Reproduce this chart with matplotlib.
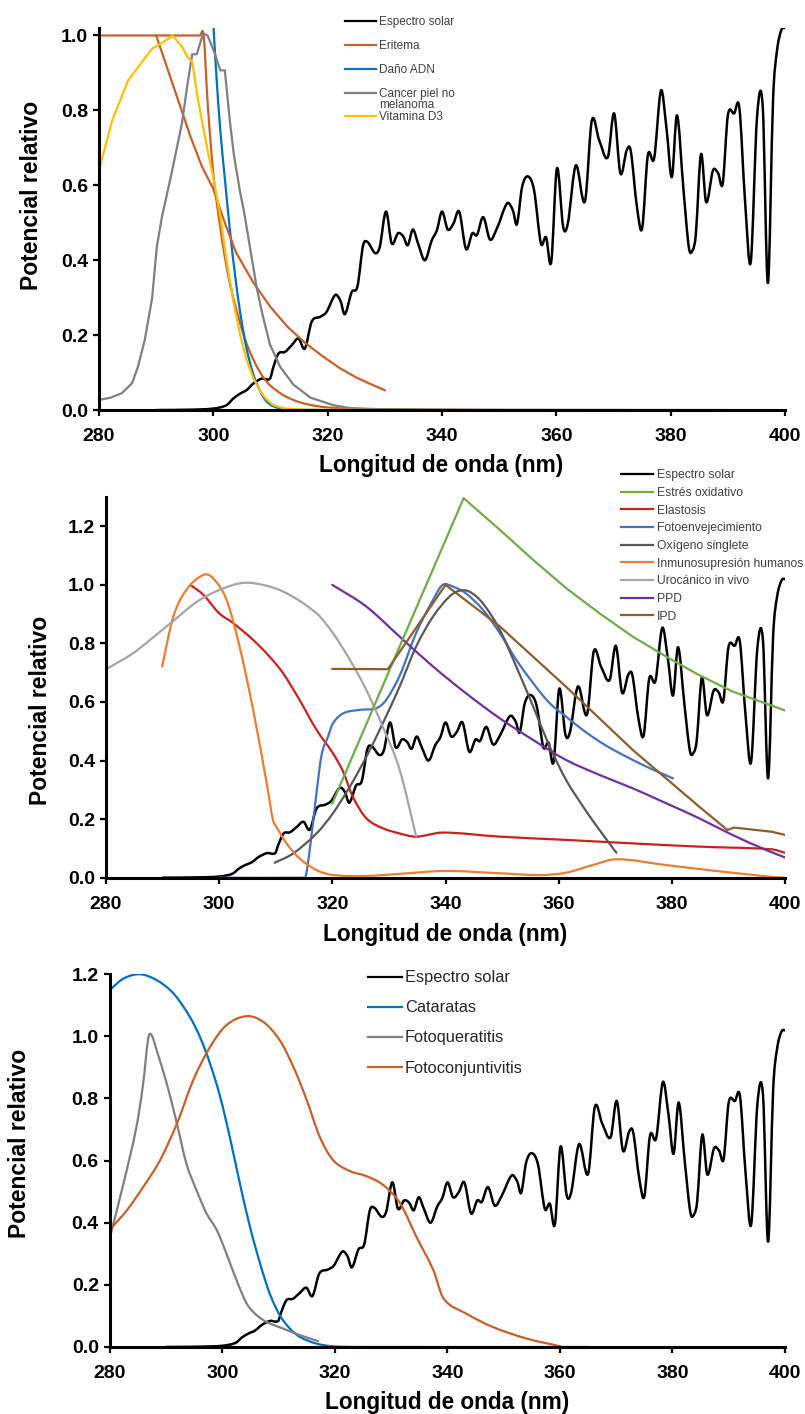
import numpy as np
import matplotlib
matplotlib.use('Agg')
import matplotlib.pyplot as plt
from matplotlib.path import Path
from matplotlib.patches import PathPatch
from matplotlib.lines import Line2D

plt.rcParams['font.family'] = ['Liberation Sans', 'DejaVu Sans']

# ---------------- data ----------------
solar_nm = [290, 296, 300, 302.3, 303.5, 304.7, 305.8, 307, 308.5, 309.9, 310.5, 311.4,
            312.5, 313.7, 314.9, 316, 317.2, 318.7, 319.8, 321.3, 322.2, 323, 324.2, 325.2,
            326.2, 327, 328.3, 329.1, 330.2, 331.2, 332.3, 333.2, 334, 334.9, 335.8, 337,
            338.2, 339.1, 340, 341, 342, 343, 344.2, 345.3, 346.1, 347.2, 348.4, 349.6,
            351.4, 352.4, 353.1, 354, 355, 356.1, 357.3, 358.2, 359.1, 360.1, 361.2, 362,
            363.4, 365, 366.2, 367.5, 369, 370.1, 371.2, 372.3, 373, 374.1, 375, 376,
            377.1, 378.3, 379.3, 380.2, 381.1, 382.2, 383.2, 383.9, 384.4, 385.3, 386.2,
            387.4, 388.3, 389.1, 390, 391.1, 392, 393, 394, 395.1, 396.1, 397, 397.9,
            398.6, 399.4, 400]
solar_val = [0.0, 0.001, 0.004, 0.013, 0.031, 0.044, 0.053, 0.071, 0.084, 0.084, 0.115, 0.151,
             0.155, 0.173, 0.191, 0.164, 0.236, 0.249, 0.262, 0.307, 0.293, 0.256, 0.315, 0.33,
             0.44, 0.448, 0.419, 0.435, 0.53, 0.445, 0.472, 0.464, 0.44, 0.482, 0.445, 0.4,
             0.453, 0.48, 0.53, 0.482, 0.498, 0.53, 0.43, 0.472, 0.467, 0.515, 0.455, 0.485,
             0.552, 0.533, 0.496, 0.595, 0.624, 0.587, 0.445, 0.461, 0.395, 0.645, 0.488, 0.498,
             0.653, 0.557, 0.773, 0.72, 0.675, 0.792, 0.632, 0.693, 0.693, 0.542, 0.485, 0.68,
             0.672, 0.853, 0.747, 0.622, 0.787, 0.595, 0.432, 0.429, 0.47, 0.683, 0.555,
             0.64, 0.632, 0.605, 0.787, 0.792, 0.808, 0.56, 0.395, 0.782, 0.81, 0.339, 0.827,
             0.96, 1.016, 1.02]

# panel 1
eritema_nm = [280, 297.7, 298.3, 299, 300, 301, 302, 303, 304, 305, 306, 307, 308, 309, 310,
              312, 314, 316, 318, 320, 325, 330, 340, 350]
eritema_val = [1.0, 1.0, 1.0, 0.82, 0.63, 0.51, 0.41, 0.33, 0.27, 0.215, 0.17, 0.135, 0.105,
               0.082, 0.065, 0.042, 0.027, 0.017, 0.011, 0.007, 0.003, 0.002, 0.001, 0.0]
eritema2_nm = [290, 292, 294, 296, 298, 300, 302, 304, 307, 310, 313, 316, 319, 322, 325, 328, 330]
eritema2_val = [1.0, 0.91, 0.82, 0.73, 0.65, 0.59, 0.5, 0.42, 0.34, 0.275, 0.222, 0.18, 0.145,
                0.113, 0.087, 0.066, 0.053]
adn_nm = [300, 300.5, 301.2, 302, 302.9, 303.8, 304.7, 305.8, 307, 308.2, 309.2, 310.5, 313, 320, 330]
adn_val = [1.03, 0.9, 0.75, 0.62, 0.48, 0.36, 0.26, 0.165, 0.095, 0.05, 0.025, 0.01, 0.002, 0.0, 0.0]
cancer_nm = [280, 282, 284, 285.8, 286.8, 288, 289.3, 290.1, 291, 292.8, 294.5, 295.4, 296.3,
             297.1, 298.2, 299, 300.3, 301.2, 302, 302.9, 303.6, 304.7, 305.3, 306.4, 307.6,
             308.6, 309.9, 311.7, 314, 317, 321, 324, 330, 340, 397]
cancer_val = [0.027, 0.033, 0.045, 0.072, 0.115, 0.187, 0.3, 0.435, 0.515, 0.64, 0.765, 0.862,
              0.95, 0.95, 1.005, 1.0, 0.95, 0.907, 0.907, 0.77, 0.68, 0.58, 0.535, 0.435, 0.325,
              0.255, 0.175, 0.115, 0.068, 0.033, 0.013, 0.005, 0.002, 0.001, 0.0]
vitd3_nm = [280, 282.3, 285.1, 286.8, 289.3, 291, 292.9, 294.5, 295.6, 296.3, 297.3, 298.9, 300,
            301.2, 302.3, 303.5, 304.7, 305.8, 307, 308.2, 309.2, 310.5, 312.5, 316, 330]
vitd3_val = [0.64, 0.773, 0.88, 0.915, 0.965, 0.98, 1.0, 0.97, 0.94, 0.93, 0.83, 0.7, 0.62,
             0.52, 0.4, 0.29, 0.2, 0.135, 0.085, 0.05, 0.03, 0.013, 0.004, 0.001, 0.0]

# panel 2
estres_nm = [320, 331.9, 343.2, 349.6, 355.5, 361.3, 367.2, 373.1, 379, 384.8, 390.7, 400]
estres_val = [0.254, 0.79, 1.296, 1.188, 1.085, 0.989, 0.903, 0.823, 0.755, 0.692, 0.636, 0.571]
elastosis_nm = [294.9, 297.2, 300, 302.5, 306, 308.9, 311.3, 314.2, 317.2, 320.1, 321.9, 323.6,
                326, 328.9, 331.9, 334.8, 339.5, 349.6, 361.3, 373.1, 384.8, 397.6, 400]
elastosis_val = [1.0, 0.966, 0.903, 0.869, 0.812, 0.755, 0.698, 0.607, 0.505, 0.425, 0.362, 0.277,
                 0.203, 0.169, 0.151, 0.14, 0.154, 0.14, 0.129, 0.117, 0.106, 0.097, 0.085]
fotoenv_nm = [300, 314.8, 315.3, 316.1, 317.2, 318.1, 319.2, 320.1, 321.9, 324.8, 327.8, 329.5,
              331.9, 334.8, 337.8, 339.5, 341.3, 343.6, 346.6, 349.6, 352.5, 355.5, 358.4, 361.3,
              364.3, 367.2, 370.2, 373.1, 376.1, 380.2]
fotoenv_val = [0.0, 0.0, 0.005, 0.11, 0.29, 0.42, 0.48, 0.527, 0.561, 0.573, 0.579, 0.607, 0.69,
               0.835, 0.949, 1.0, 0.994, 0.971, 0.915, 0.835, 0.744, 0.664, 0.596, 0.55, 0.504,
               0.465, 0.431, 0.402, 0.374, 0.339]
oxigeno_nm = [309.8, 313.1, 317.2, 320.1, 323.1, 326, 328.9, 331.9, 334.8, 337.8, 340.7, 342.5,
              344.2, 346.6, 349.6, 352.5, 355.5, 358.4, 361.3, 364.3, 367.2, 370.2]
oxigeno_val = [0.051, 0.083, 0.151, 0.22, 0.311, 0.413, 0.527, 0.653, 0.789, 0.892, 0.96, 0.98,
               0.977, 0.937, 0.846, 0.721, 0.584, 0.448, 0.334, 0.243, 0.163, 0.085]
inmuno_nm = [289.9, 291.9, 294.2, 297.2, 298.9, 301.3, 303.6, 306, 308.4, 309.5, 310.1, 311.9,
             314.2, 317.2, 320.1, 326, 331.9, 340, 349.6, 356.6, 361.3, 366, 370.2, 379, 387.8,
             397.6, 400]
inmuno_val = [0.721, 0.892, 0.983, 1.034, 1.023, 0.949, 0.789, 0.573, 0.322, 0.197, 0.174, 0.117,
              0.066, 0.026, 0.009, 0.006, 0.013, 0.023, 0.015, 0.009, 0.017, 0.043, 0.063, 0.043,
              0.023, 0.003, 0.0]
urocanico_nm = [280, 284.8, 290.7, 296.6, 302.5, 306, 311.3, 317.2, 320.1, 323.1, 326, 328.9,
                331.9, 334.8]
urocanico_val = [0.712, 0.767, 0.858, 0.949, 1.0, 1.006, 0.977, 0.903, 0.835, 0.744, 0.641, 0.516,
                 0.368, 0.142]
ppd_nm = [320, 326, 331.9, 337.8, 343.6, 349.6, 355.5, 361.3, 367.2, 373.1, 379, 384.8, 390.7,
          396.6, 400]
ppd_val = [1.0, 0.926, 0.823, 0.721, 0.63, 0.544, 0.47, 0.402, 0.351, 0.305, 0.254, 0.203, 0.146,
           0.095, 0.069]
ipd_nm = [320, 329.8, 340, 349.6, 361.3, 373.1, 384.8, 389.8, 391, 397.6, 400]
ipd_val = [0.713, 0.712, 1.0, 0.858, 0.652, 0.436, 0.243, 0.163, 0.171, 0.157, 0.146]

# panel 3
cataratas_nm = [280, 282.4, 285.3, 288.3, 291.3, 294.2, 296, 297.8, 299.6, 301.3, 303.1, 304.9,
                306.7, 308.4, 310.2, 312, 313.8, 316.7, 319.7, 325, 365]
cataratas_val = [1.15, 1.186, 1.2, 1.181, 1.138, 1.063, 0.998, 0.912, 0.805, 0.676, 0.526, 0.386,
                 0.268, 0.172, 0.102, 0.059, 0.032, 0.011, 0.002, 0.0, 0.0]
queratitis_nm = [280, 282.4, 284.7, 285.9, 286.8, 287.4, 288.3, 290.1, 291.9, 293.6, 295.4, 297.2,
                 299, 300.7, 302.5, 304.3, 306.1, 307.9, 310.8, 313.8, 317]
queratitis_val = [0.354, 0.526, 0.708, 0.848, 0.993, 1.004, 0.955, 0.848, 0.719, 0.59, 0.504,
                  0.429, 0.376, 0.301, 0.215, 0.14, 0.102, 0.08, 0.059, 0.038, 0.019]
conjunt_nm = [280, 283, 285.9, 288.9, 291.9, 294.8, 297.8, 300.7, 304.3, 307.3, 310.2, 312.6, 315,
              317.3, 319.7, 322.7, 325.6, 328.6, 331.6, 334.5, 337.5, 339.3, 343.4, 348.1, 354.1,
              360.1]
conjunt_val = [0.378, 0.44, 0.515, 0.601, 0.719, 0.859, 0.966, 1.036, 1.065, 1.046, 0.987, 0.902,
               0.794, 0.676, 0.601, 0.566, 0.55, 0.521, 0.462, 0.354, 0.247, 0.156, 0.107, 0.064,
               0.027, 0.002]


def smooth_line(ax, x, y, color, lw=1.5):
    # Excel-like smoothed line: cubic Bezier through the points
    x = np.asarray(x, float)
    y = np.asarray(y, float)
    n = len(x)
    m = np.zeros(n)
    m[0] = (y[1] - y[0]) / (x[1] - x[0])
    m[-1] = (y[-1] - y[-2]) / (x[-1] - x[-2])
    for i in range(1, n - 1):
        m[i] = (y[i + 1] - y[i - 1]) / (x[i + 1] - x[i - 1])
    verts = [(x[0], y[0])]
    codes = [Path.MOVETO]
    for i in range(n - 1):
        dx = (x[i + 1] - x[i]) / 3
        verts += [(x[i] + dx, y[i] + m[i] * dx), (x[i + 1] - dx, y[i + 1] - m[i + 1] * dx),
                  (x[i + 1], y[i + 1])]
        codes += [Path.CURVE4] * 3
    ax.add_patch(PathPatch(Path(verts, codes), fill=False, edgecolor=color, lw=lw,
                           capstyle='round', joinstyle='round'))


def style_axes(ax, ymax, yticks, ylab_xy, xlab_xy):
    ax.set_xlim(280, 400)
    ax.set_ylim(0, ymax)
    ax.set_xticks(range(280, 401, 20))
    ax.set_yticks(yticks)
    ax.set_yticklabels(['%.1f' % v for v in yticks])
    for s in ['top', 'right']:
        ax.spines[s].set_visible(False)
    for s in ['left', 'bottom']:
        ax.spines[s].set_linewidth(2.2)
    ax.tick_params(direction='out', length=4, width=1.6, labelsize=14)
    ax.tick_params(axis='x', pad=9)
    ax.tick_params(axis='y', pad=4)
    for lab in ax.get_xticklabels() + ax.get_yticklabels():
        lab.set_fontweight('bold')
    ax.set_xlabel('Longitud de onda (nm)', fontsize=16.3, fontweight='bold', va='center')
    ax.set_ylabel('Potencial relativo', fontsize=16.5, fontweight='bold', va='center')
    ax.xaxis.set_label_coords(*xlab_xy)
    ax.yaxis.set_label_coords(*ylab_xy)


fig = plt.figure(figsize=(8.05, 14.14), dpi=100)

# ---------------- panel 1 ----------------
ax1 = fig.add_axes([0.1230, 0.7100, 0.8522, 0.2702])
smooth_line(ax1, solar_nm, solar_val, 'black', 1.8)
smooth_line(ax1, eritema_nm, eritema_val, '#C8602A', 1.6)
ax1.plot(eritema2_nm, eritema2_val, color='#C8602A', lw=1.6)
smooth_line(ax1, adn_nm, adn_val, '#0070C0', 1.6)
ax1.plot(cancer_nm, cancer_val, color='#808080', lw=1.6)
ax1.plot(vitd3_nm, vitd3_val, color='#FFC000', lw=1.6)
style_axes(ax1, 1.02, [0, 0.2, 0.4, 0.6, 0.8, 1.0], (-0.0991, 0.563), (0.499, -0.146))

h1 = [Line2D([], [], color=c, lw=1.6) for c in ['black', '#C8602A', '#0070C0', '#808080', '#FFC000']]
ax1.legend(h1, ['Espectro solar', 'Eritema', 'Daño ADN', 'Cancer piel no', 'Vitamina D3'],
           loc='upper left', bbox_to_anchor=(0.4286, 0.9885), bbox_transform=fig.transFigure,
           frameon=False, fontsize=8.5, handlelength=2.6, handletextpad=0.25, labelspacing=1.0,
           borderpad=0, borderaxespad=0, labelcolor='#404040')
fig.text(379 / 805, 1 - 105 / 1414, 'melanoma', fontsize=8.5, color='#404040', va='center')

# ---------------- panel 2 ----------------
ax2 = fig.add_axes([0.1317, 0.3793, 0.8435, 0.2692])
smooth_line(ax2, solar_nm, solar_val, 'black', 1.8)
ax2.plot(estres_nm, estres_val, color='#70AD47', lw=1.6)
smooth_line(ax2, elastosis_nm, elastosis_val, '#C9211E', 1.6)
smooth_line(ax2, fotoenv_nm, fotoenv_val, '#4472C4', 1.6)
smooth_line(ax2, oxigeno_nm, oxigeno_val, '#595959', 1.6)
smooth_line(ax2, inmuno_nm, inmuno_val, '#ED7D31', 1.6)
smooth_line(ax2, urocanico_nm, urocanico_val, '#A5A5A5', 1.6)
smooth_line(ax2, ppd_nm, ppd_val, '#7030A0', 1.6)
ax2.plot(ipd_nm, ipd_val, color='#8B5E2E', lw=1.6)
style_axes(ax2, 1.3, [0, 0.2, 0.4, 0.6, 0.8, 1.0, 1.2], (-0.0972, 0.44), (0.5, -0.150))

cols2 = ['black', '#70AD47', '#C9211E', '#4472C4', '#595959', '#ED7D31', '#A5A5A5', '#7030A0', '#8B5E2E']
labs2 = ['Espectro solar', 'Estrés oxidativo', 'Elastosis', 'Fotoenvejecimiento', 'Oxígeno singlete',
         'Inmunosupresión humanos', 'Urocánico in vivo', 'PPD', 'IPD']
ax2.legend([Line2D([], [], color=c, lw=1.6) for c in cols2], labs2,
           loc='upper left', bbox_to_anchor=(0.7714, 0.6682), bbox_transform=fig.transFigure,
           frameon=False, fontsize=8.7, handlelength=2.65, handletextpad=0.3, labelspacing=0.47,
           borderpad=0, borderaxespad=0, labelcolor='#404040')

# ---------------- panel 3 ----------------
ax3 = fig.add_axes([0.1366, 0.0474, 0.8385, 0.2636])
smooth_line(ax3, solar_nm, solar_val, 'black', 1.8)
smooth_line(ax3, cataratas_nm, cataratas_val, '#0070C0', 1.6)
smooth_line(ax3, queratitis_nm, queratitis_val, '#808080', 1.6)
smooth_line(ax3, conjunt_nm, conjunt_val, '#C8602A', 1.6)
style_axes(ax3, 1.2, [0, 0.2, 0.4, 0.6, 0.8, 1.0, 1.2], (-0.1333, 0.547), (0.5, -0.150))

cols3 = ['black', '#0070C0', '#808080', '#C8602A']
labs3 = ['Espectro solar', 'Cataratas', 'Fotoqueratitis', 'Fotoconjuntivitis']
ax3.legend([Line2D([], [], color=c, lw=1.6) for c in cols3], labs3,
           loc='upper left', bbox_to_anchor=(0.457, 0.3138), bbox_transform=fig.transFigure,
           frameon=False, fontsize=11.8, handlelength=2.1, handletextpad=0.15, labelspacing=0.92,
           borderpad=0, borderaxespad=0, labelcolor='#262626')

fig.savefig('out.png', dpi=100)
